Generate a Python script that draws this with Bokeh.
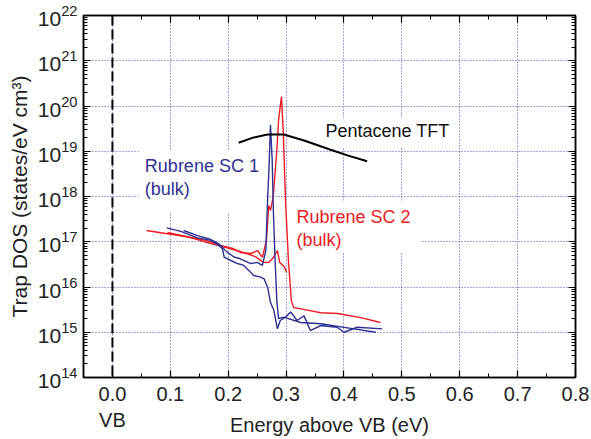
from bokeh.plotting import figure
from bokeh.models import (LinearAxis, LogAxis, Range1d, Label, Span, BoxAnnotation,
                          FixedTicker, LogTickFormatter, PrintfTickFormatter, CustomJSTickFormatter)
from bokeh.embed import file_html
from bokeh.resources import INLINE

# ---------------- data ----------------
x_ticks = [0.0, 0.1, 0.2, 0.3, 0.4, 0.5, 0.6, 0.7, 0.8]
y_exponents = [14, 15, 16, 17, 18, 19, 20, 21, 22]
vb_label = "VB"
x_title = "Energy above VB (eV)"
y_title = "Trap DOS (states/eV cm³)"

# Rubrene SC 2 (red), trace with the sharp peak
red1_x = [0.059, 0.092, 0.126, 0.161, 0.187, 0.208, 0.221, 0.239, 0.251, 0.259, 0.266,
          0.270, 0.273, 0.278, 0.284, 0.287, 0.292, 0.295, 0.299, 0.304, 0.309, 0.313,
          0.330, 0.360, 0.389, 0.429, 0.463]
red1_y = [1.77e17, 1.52e17, 1.31e17, 1.07e17, 8.3e16, 7.1e16, 5.8e16, 5.5e16, 6.4e16, 4.5e16, 1.07e17,
          6.3e17, 4.9e17, 1.05e18, 1.04e19, 4.8e19, 1.62e20, 2.9e19, 8.2e17, 3.9e16, 5.0e15, 3.5e15,
          3.2e15, 2.7e15, 2.6e15, 2.1e15, 1.64e15]
# Rubrene SC 2 (red), second trace
red2_x = [0.095, 0.135, 0.170, 0.195, 0.221, 0.247, 0.261, 0.270, 0.277, 0.285, 0.289, 0.297, 0.301]
red2_y = [1.60e17, 1.24e17, 9.1e16, 7.5e16, 6.1e16, 4.7e16, 3.5e16, 3.5e16, 4.3e16, 6.4e16, 3.5e16,
          2.8e16, 2.1e16]
# Rubrene SC 1 (blue), first trace
blue1_x = [0.094, 0.118, 0.147, 0.170, 0.184, 0.190, 0.193, 0.204, 0.216, 0.227, 0.236, 0.244,
           0.256, 0.262, 0.268, 0.273, 0.279, 0.285, 0.290, 0.299, 0.308, 0.319, 0.331, 0.342,
           0.360, 0.388, 0.400, 0.423, 0.466]
blue1_y = [2.03e17, 1.69e17, 1.22e17, 1.07e17, 8.3e16, 7.0e16, 4.6e16, 3.9e16, 3.3e16, 3.0e16, 2.3e16,
           1.8e16, 1.65e16, 1.52e16, 9.9e15, 4.6e15, 3.0e15, 1.19e15, 1.82e15, 2.15e15, 2.8e15,
           1.82e15, 2.3e15, 1.09e15, 1.41e15, 1.29e15, 1.0e15, 1.29e15, 1.19e15]
# Rubrene SC 1 (blue), second trace with the sharp peak
blue2_x = [0.123, 0.147, 0.170, 0.184, 0.198, 0.210, 0.221, 0.239, 0.250, 0.259, 0.265, 0.268,
           0.271, 0.273, 0.276, 0.278, 0.281, 0.284, 0.287, 0.296, 0.325, 0.360, 0.417, 0.455]
blue2_y = [1.77e17, 1.37e17, 1.12e17, 9.0e16, 5.9e16, 4.6e16, 4.2e16, 3.3e16, 3.5e16, 3.0e16, 6.4e16,
           8.2e17, 6.3e18, 3.85e19, 6.3e18, 4.9e17, 3.9e16, 5.0e15, 2.0e15, 2.15e15, 1.64e15,
           1.54e15, 1.19e15, 1.0e15]
# Pentacene TFT (black)
pent_x = [0.218, 0.243, 0.268, 0.296, 0.331, 0.377, 0.406, 0.440]
pent_y = [1.54e19, 2.0e19, 2.34e19, 2.34e19, 1.73e19, 1.08e19, 8.1e18, 6.0e18]

# ---------------- style ----------------
FONT = "Liberation Sans"
BLUE = "#2E3192"
RED = "#ED1C24"
GRID = "#4B4BB5"

p = figure(width=591, height=439, y_axis_type="log",
           x_range=Range1d(-0.05, 0.8), y_range=Range1d(1e14, 1e22),
           output_backend="svg", toolbar_location=None,
           min_border_left=83, min_border_right=16, min_border_top=15, min_border_bottom=62)
p.background_fill_color = "white"
p.border_fill_color = "white"
p.outline_line_color = "black"
p.outline_line_width = 1.5

x_minor = [round(0.05 * i - 0.05, 3) for i in range(18)]
xticker = FixedTicker(ticks=x_ticks, minor_ticks=x_minor)
y_major = [10.0 ** e for e in y_exponents]
y_minor = [m * 10.0 ** e for e in y_exponents[:-1] for m in range(2, 10)]
yticker = FixedTicker(ticks=y_major, minor_ticks=y_minor)


def style_axis(ax):
    ax.axis_line_color = "black"
    ax.axis_line_width = 1.5
    ax.major_tick_in = 7
    ax.major_tick_out = 0
    ax.minor_tick_in = 4
    ax.minor_tick_out = 0
    ax.major_tick_line_color = "black"
    ax.minor_tick_line_color = "black"
    ax.major_tick_line_width = 1.2
    ax.minor_tick_line_width = 1
    ax.major_label_text_font = FONT
    ax.major_label_text_color = "#222222"
    ax.axis_label_text_font = FONT
    ax.axis_label_text_font_style = "normal"
    ax.axis_label_text_color = "#222222"


xa = p.xaxis[0]
xa.ticker = xticker
xa.formatter = PrintfTickFormatter(format="%.1f")
style_axis(xa)
xa.major_label_text_font_size = "20px"
xa.major_label_standoff = 9

# second row under the x axis: "VB" under 0.0, then the axis title on about the same line
xb = LinearAxis(ticker=FixedTicker(ticks=[0.0], minor_ticks=[]),
                formatter=CustomJSTickFormatter(args=dict(vb=vb_label), code="return vb;"))
style_axis(xb)
xb.axis_line_color = None
xb.major_tick_line_color = None
xb.minor_tick_line_color = None
xb.major_label_text_font_size = "20px"
xb.major_label_standoff = 5
xb.axis_label = x_title
xb.axis_label_text_font_size = "20px"
xb.axis_label_standoff = -20
p.add_layout(xb, "below")

ya = p.yaxis[0]
ya.ticker = yticker
ya.formatter = LogTickFormatter()
style_axis(ya)
ya.major_label_text_font_size = "21px"
ya.major_label_standoff = 6
ya.axis_label = y_title
ya.axis_label_text_font_size = "21px"
ya.axis_label_standoff = 4

# mirrored tick-only axes on top and right
top = LinearAxis(ticker=xticker, formatter=PrintfTickFormatter(format="%.1f"))
style_axis(top)
top.major_label_text_font_size = "1px"
top.major_label_text_color = None
top.major_label_standoff = 0
p.add_layout(top, "above")

right = LogAxis(ticker=yticker, formatter=PrintfTickFormatter(format="%g"))
style_axis(right)
right.major_label_text_font_size = "1px"
right.major_label_text_color = None
right.major_label_standoff = 0
p.add_layout(right, "right")

for g, t in ((p.xgrid[0], xticker), (p.ygrid[0], yticker)):
    g.ticker = t
    g.grid_line_color = GRID
    g.grid_line_dash = "1 2"
    g.grid_line_width = 1

# white text boxes (hide grid behind labels, under the curves)
for l, r, b, t in ((0.045, 0.266, 10 ** 17.65, 10 ** 19.02),
                   (0.300, 0.532, 10 ** 16.76, 10 ** 17.91),
                   (0.355, 0.593, 10 ** 19.10, 10 ** 19.72)):
    p.add_layout(BoxAnnotation(left=l, right=r, bottom=b, top=t, fill_color="white", fill_alpha=1,
                               line_color=None, level="underlay"))

p.add_layout(Span(location=0, dimension="height", line_color="black", line_dash="10 4", line_width=2))

p.line(red2_x, red2_y, line_color=RED, line_width=1.4)
p.line(red1_x, red1_y, line_color=RED, line_width=1.4)
p.line(blue1_x, blue1_y, line_color=BLUE, line_width=1.4)
p.line(blue2_x, blue2_y, line_color=BLUE, line_width=1.4)
p.line(pent_x, pent_y, line_color="black", line_width=2)


def lab(x, y, text, color, size="18px", align="left"):
    p.add_layout(Label(x=x, y=y, text=text, text_color=color, text_font=FONT, text_font_size=size,
                       text_align=align, text_baseline="middle"))


lab(0.368, 10 ** 19.437, "Pentacene TFT", "#111111")
lab(0.056, 10 ** 18.685, "Rubrene SC 1", BLUE)
lab(0.056, 10 ** 18.17, "(bulk)", BLUE)
lab(0.318, 10 ** 17.54, "Rubrene SC 2", RED)
lab(0.318, 10 ** 17.03, "(bulk)", RED)

open("out.html", "w").write(file_html(p, INLINE))
